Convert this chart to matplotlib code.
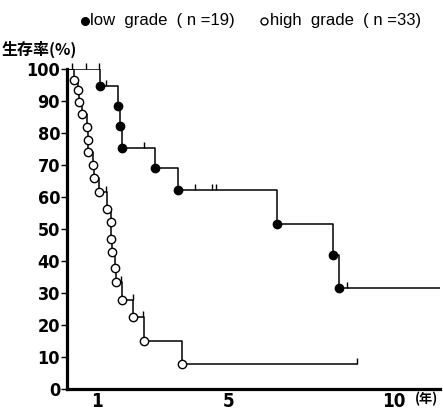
import matplotlib
matplotlib.use('Agg')
import matplotlib.pyplot as plt
import numpy as np

plt.rcParams['font.family'] = ['DejaVu Sans', 'Noto Sans CJK JP']

# low grade (n=19): step times (years) and survival (%) after each death
lo_t = [0.1, 1.09, 1.64, 1.70, 1.76, 2.77, 3.45, 6.47, 8.15, 8.34]
lo_s = [100, 94.7, 88.4, 82.2, 75.3, 69.2, 62.2, 51.6, 42.0, 31.5]
lo_end = 11.4
lo_cens = [0.26, 0.69, 1.07, 1.27, 2.42, 3.97, 4.48, 4.60, 8.58]

# high grade (n=33)
hi_t = [0.1, 0.32, 0.44, 0.46, 0.55, 0.70, 0.74, 0.75, 0.88, 0.92, 1.06,
        1.30, 1.42, 1.43, 1.47, 1.54, 1.58, 1.76, 2.11, 2.42, 3.58]
hi_s = [100, 96.6, 93.4, 89.6, 85.8, 82.0, 77.8, 74.2, 70.0, 65.8, 61.7,
        56.4, 52.1, 46.9, 42.7, 37.7, 33.4, 27.8, 22.4, 15.0, 7.7]
hi_end = 8.90
hi_cens = [1.28, 1.74, 2.09, 2.40, 8.90]

yticks = list(range(0, 101, 10))
xticks = [1, 5, 10]

fig = plt.figure(figsize=(4.43, 4.11), dpi=100)
ax = fig.add_axes([67/443, 1-389/411, 373/443, 320/411])

tick_marker = [(0, 0), (0, 1)]


def km(ax, t, s, end, cens, face):
    tt = t + [end]
    ss = s + [s[-1]]
    ax.step(tt, ss, where='post', color='black', lw=1.1, zorder=2)
    ax.plot(t[1:], s[1:], 'o', ms=6, mfc=face, mec='black', mew=1.0, zorder=3)
    idx = np.searchsorted(t, cens, side='right') - 1
    cy = np.array(s)[idx]
    ax.plot(cens, cy, linestyle='none', marker=tick_marker, ms=8,
            color='black', mew=1.0, zorder=2, clip_on=False)


km(ax, lo_t, lo_s, lo_end, lo_cens, 'black')
km(ax, hi_t, hi_s, hi_end, hi_cens, 'white')

ax.set_xlim(0.1, 11.4)
ax.set_ylim(0, 100)
ax.spines['top'].set_visible(False)
ax.spines['right'].set_visible(False)
ax.spines['left'].set_linewidth(2.3)
ax.spines['bottom'].set_linewidth(2.3)
ax.set_yticks(yticks)
ax.set_xticks(xticks)
ax.tick_params(axis='y', length=4, width=1, pad=1)
ax.tick_params(axis='x', length=0, pad=2)
for lab in ax.get_yticklabels():
    lab.set_fontweight('bold')
    lab.set_fontsize(13)
    lab.set_fontstretch('condensed')
for lab in ax.get_xticklabels():
    lab.set_fontweight('bold')
    lab.set_fontsize(13.5)
    lab.set_fontstretch('condensed')

fig.text(2/443, 1-49/411, '生存率(%)', fontsize=11.5, fontweight='bold',
         family=['Noto Sans CJK JP'], va='center', ha='left')
fig.text(438/443, 1-399/411, '(年)', fontsize=9.5, fontweight='bold',
         family=['Noto Sans CJK JP'], va='center', ha='right')

# legend drawn in figure coordinates
ax.plot([85/443], [1-21/411], 'o', ms=5.5, mfc='black', mec='black',
        transform=fig.transFigure, clip_on=False)
ax.plot([264/443], [1-21/411], 'o', ms=5, mfc='white', mec='black', mew=1.0,
        transform=fig.transFigure, clip_on=False)
fig.text(90/443, 1-21/411, 'low  grade  ( n =19)', fontsize=12,
         family=['Liberation Sans'], va='center', ha='left')
fig.text(270/443, 1-21/411, 'high  grade  ( n =33)', fontsize=12,
         family=['Liberation Sans'], va='center', ha='left')

fig.savefig('out.png', dpi=100)
